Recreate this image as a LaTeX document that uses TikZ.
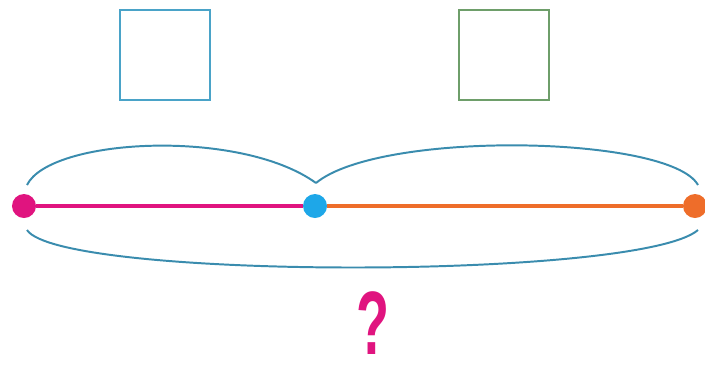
\documentclass[tikz,border=0pt]{standalone}
\usepackage{fontspec}
\setmainfont{Liberation Sans}
\definecolor{segpink}{HTML}{E0147F}
\definecolor{segorange}{HTML}{EE6D2A}
\definecolor{dotblue}{HTML}{1EA7E8}
\definecolor{bracecol}{HTML}{3A8CAE}
\definecolor{boxblue}{HTML}{4AA3C8}
\definecolor{boxgreen}{HTML}{6E9E6A}
\tikzset{
  answerbox/.style={draw, line width=1.8pt, minimum size=2.25cm, inner sep=0pt},
  pointdot/.style={circle, minimum size=0.6cm, inner sep=0pt},
  segline/.style={line width=2.2pt},
  brace/.style={draw=bracecol, line width=1.4pt}
}
\begin{document}
\begin{tikzpicture}[x=0.025cm,y=-0.025cm]
\useasboundingbox (0,0) rectangle (705,364);
% boxes to fill in
\node[answerbox, draw=boxblue] (boxa) at (165,55) {};
\node[answerbox, draw=boxgreen] (boxb) at (504,55) {};
% the points on the line
\node[pointdot, fill=segpink] (pa) at (24,206) {};
\node[pointdot, fill=dotblue] (pb) at (315,206) {};
\node[pointdot, fill=segorange] (pc) at (695,206) {};
\draw[segline, segpink] (pa) -- (pb);
\draw[segline, segorange] (pb) -- (pc);
% brace ends
\coordinate (ua) at (27,185);
\coordinate (ub) at (316,183);
\coordinate (uc) at (698,185);
\coordinate (la) at (27,230);
\coordinate (lc) at (698,230);
\draw[brace] (ua) .. controls (50,138) and (240,128) .. (ub);
\draw[brace] (ub) .. controls (380,130) and (670,135) .. (uc);
\draw[brace] (la) .. controls (60,280) and (640,280) .. (lc);
\node[text=segpink, inner sep=0pt, anchor=base, text depth=0pt, font=\bfseries\fontsize{64}{64}\selectfont] (q) at (373,354) {\scalebox{0.6}[1]{?}};
\end{tikzpicture}
\end{document}
